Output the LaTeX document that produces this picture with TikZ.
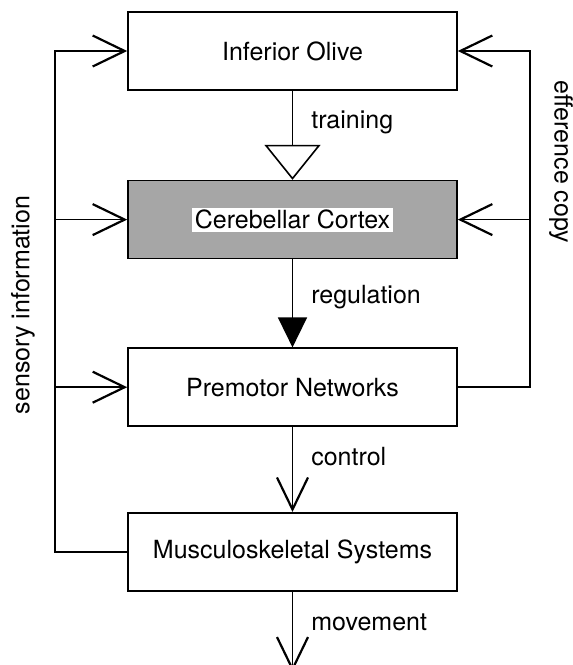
\documentclass[tikz,border=0pt]{standalone}
\usepackage{fontspec}
\setmainfont{TeX Gyre Heros}
\usetikzlibrary{positioning,arrows.meta}

\begin{document}
\begin{tikzpicture}[
    font=\fontsize{25}{30}\selectfont,
    line width=1.6pt,
    block/.style={draw, minimum width=329pt, minimum height=78pt, inner sep=0pt},
    barb/.style={-{Straight Barb[length=32pt, width=31pt, line width=2.2pt]}},
    opentri/.style={-{Triangle[open, length=35pt, width=56pt, line width=1.6pt]}},
    filltri/.style={-{Triangle[length=30pt, width=29pt]}},
    lbl/.style={right=18pt, inner sep=0pt}
  ]
  \useasboundingbox (0,0) rectangle (573pt,-665pt);

  \node[block] (io) at (292.5pt,-51pt) {Inferior Olive};
  \node[block, fill=black!35, below=89pt of io] (cc) {};
  \node[fill=white, inner sep=2.5pt] (cctext) at (cc) {Cerebellar Cortex};
  \node[block, below=88pt of cc] (pn) {Premotor Networks};
  \node[block, below=85pt of pn] (ms) {Musculoskeletal Systems};
  \coordinate[below=80pt of ms] (out);
  \coordinate (sl) at (55pt,-51pt);
  \coordinate (er) at (530pt,-51pt);

  \draw[opentri] (io) -- node[lbl, pos=0.35] {training} (cc);
  \draw[filltri] (cc) -- node[lbl, pos=0.43] {regulation} (pn);
  \draw[barb] (pn) -- node[lbl, pos=0.35] {control} (ms);
  \draw[barb] (ms) -- node[lbl, pos=0.38] {movement} (out);

  \draw[barb] (ms.west) -| (sl) -- (io.west);
  \draw[barb] (cc.west -| sl) -- (cc.west);
  \draw[barb] (pn.west -| sl) -- (pn.west);
  \draw[barb] (pn.east) -| (er) -- (io.east);
  \draw[barb] (cc.east -| er) -- (cc.east);

  \node[rotate=90] (sensory) at (23pt,-305pt) {sensory information};
  \node[rotate=-90] (efference) at (561pt,-162pt) {efference copy};
\end{tikzpicture}
\end{document}
